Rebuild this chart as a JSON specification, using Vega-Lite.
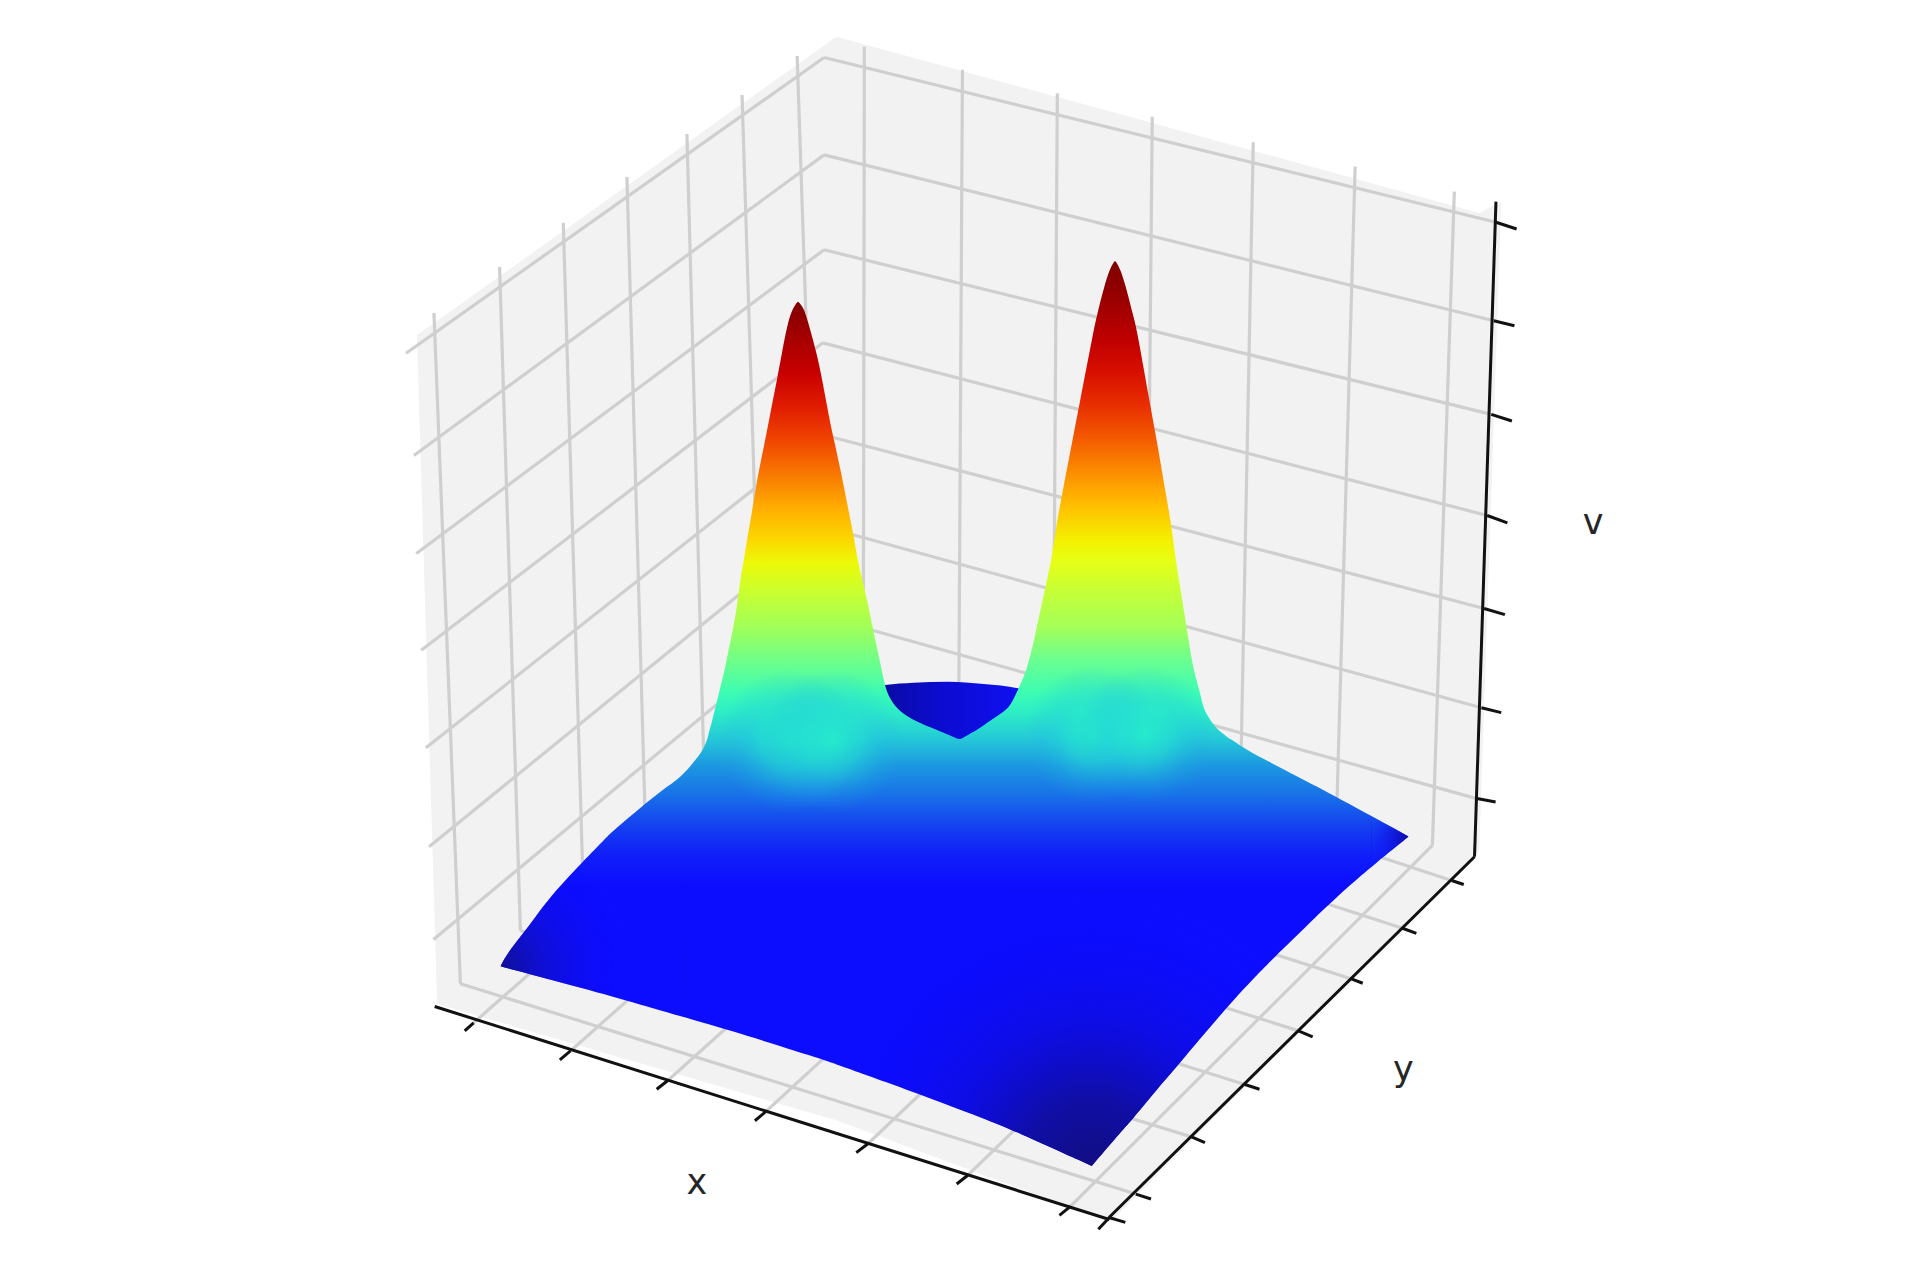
{"$schema":"https://vega.github.io/schema/vega-lite/v6.json","width":1920,"height":1282,"autosize":{"type":"fit","contains":"padding"},"padding":0,"background":"white","view":{"stroke":null},
"encoding":{"x":{"field":"x","type":"quantitative","scale":{"domain":[0,1568],"nice":false,"zero":false},"axis":null},"y":{"field":"y","type":"quantitative","scale":{"domain":[1047,0],"nice":false,"zero":false},"axis":null}},
"layer":[
{"data":{"values":[{"x":340.5,"y":273.6,"y2":273.6},{"x":357,"y":262,"y2":820},{"x":683,"y":30,"y2":915},{"x":907,"y":91,"y2":998},{"x":1208,"y":174,"y2":695},{"x":1226,"y":165,"y2":165}]},"mark":{"type":"area","orient":"vertical","fill":"#f2f2f2","stroke":null},"encoding":{"y2":{"field":"y2"}}},
{"data":{"values":[
{"x":354.4,"y":255.6,"x2":376,"y2":803.4},{"x":408,"y":218,"x2":425,"y2":760},{"x":460,"y":182,"x2":476,"y2":716},{"x":512,"y":144.5,"x2":527,"y2":672},{"x":561,"y":109.5,"x2":575,"y2":630},{"x":606,"y":77.6,"x2":622,"y2":589},{"x":651,"y":45.7,"x2":668,"y2":549},
{"x":376,"y":803.4,"x2":927.6,"y2":975.2},{"x":425,"y":760,"x2":973.1,"y2":928.5},{"x":476,"y":716,"x2":1016.7,"y2":885.7},{"x":527,"y":672,"x2":1060.4,"y2":841.9},{"x":575,"y":630,"x2":1102.6,"y2":799.1},{"x":622,"y":589,"x2":1144.8,"y2":757.9},{"x":668,"y":549,"x2":1185.5,"y2":719.1},
{"x":705.9,"y":38.1,"x2":705,"y2":555},{"x":786,"y":57,"x2":783,"y2":577},{"x":863.5,"y":76.2,"x2":860,"y2":600},{"x":941,"y":95.3,"x2":936,"y2":622},{"x":1023.5,"y":116.2,"x2":1013,"y2":645},{"x":1106.7,"y":136.1,"x2":1091.5,"y2":668},{"x":1187.7,"y":156.5,"x2":1169.8,"y2":690.5},
{"x":386.8,"y":835.3,"x2":705,"y2":555},{"x":465.9,"y":858.3,"x2":783,"y2":577},{"x":545.4,"y":882.4,"x2":860,"y2":600},{"x":625.6,"y":907.7,"x2":936,"y2":622},{"x":708.8,"y":934.1,"x2":1013,"y2":645},{"x":790.4,"y":959.8,"x2":1091.5,"y2":668},{"x":874.2,"y":985.3,"x2":1169.8,"y2":690.5},
{"x":331.6,"y":288.5,"x2":673,"y2":47},{"x":338,"y":372,"x2":673,"y2":126.5},{"x":340,"y":452,"x2":673,"y2":204},{"x":344,"y":531,"x2":672,"y2":280},{"x":347.8,"y":610.7,"x2":672,"y2":355},{"x":350.4,"y":691.5,"x2":672,"y2":430},{"x":354,"y":767.2,"x2":672,"y2":503.5},
{"x":673,"y":47,"x2":1221.7,"y2":181.5},{"x":673,"y":126.5,"x2":1219.9,"y2":262},{"x":673,"y":204,"x2":1217.9,"y2":338.4},{"x":672,"y":280,"x2":1214.5,"y2":421},{"x":672,"y":355,"x2":1212,"y2":497},{"x":672,"y":430,"x2":1209.8,"y2":578},{"x":672,"y":503.5,"x2":1205.2,"y2":652}
]},"mark":{"type":"rule","stroke":"#cfcfcf","strokeWidth":3.2},"encoding":{"x2":{"field":"x2"},"y2":{"field":"y2"}}},
{"data":{"values":[
{"x":355,"y":822,"x2":906,"y2":996},{"x":1204.2,"y":699.7,"x2":905.7,"y2":994.3},{"x":1221.7,"y":164.7,"x2":1204.2,"y2":699.7},
{"x":1221.7,"y":181.5,"x2":1238.6,"y2":187},{"x":1219.9,"y":262,"x2":1236.8,"y2":266},{"x":1217.9,"y":338.4,"x2":1234.7,"y2":343.8},{"x":1214.5,"y":421,"x2":1231,"y2":427},{"x":1212,"y":497,"x2":1229,"y2":502},{"x":1209.8,"y":578,"x2":1226,"y2":582},{"x":1205.2,"y":652,"x2":1221.4,"y2":655},
{"x":1185.5,"y":719.1,"x2":1195.4,"y2":722.4},{"x":1144.8,"y":757.9,"x2":1156.7,"y2":762.3},{"x":1102.6,"y":799.1,"x2":1112.9,"y2":803},{"x":1060.4,"y":841.9,"x2":1072,"y2":846.8},{"x":1016.7,"y":885.7,"x2":1028.6,"y2":889.6},{"x":973.1,"y":928.5,"x2":984,"y2":933.1},{"x":927.6,"y":975.2,"x2":940,"y2":979.2},{"x":905.7,"y":994.3,"x2":919,"y2":998.3},
{"x":386.8,"y":835.3,"x2":379.5,"y2":841.9},{"x":465.9,"y":858.3,"x2":457.2,"y2":865.6},{"x":545.4,"y":882.4,"x2":536.3,"y2":889.6},{"x":625.6,"y":907.7,"x2":616.5,"y2":915.3},{"x":708.8,"y":934.1,"x2":699.3,"y2":941.3},{"x":790.4,"y":959.8,"x2":781.3,"y2":967},{"x":874.2,"y":985.3,"x2":865.2,"y2":992.6},{"x":906,"y":994.3,"x2":897,"y2":1004}
]},"mark":{"type":"rule","stroke":"#111111","strokeWidth":3},"encoding":{"x2":{"field":"x2"},"y2":{"field":"y2"}}},
{"data":{"values":[{"x":720,"y":560.5,"y2":612},{"x":723,"y":559.5,"y2":612},{"x":745.9,"y":557.5,"y2":612},{"x":774.1,"y":556.7,"y2":612},{"x":803.3,"y":558.6,"y2":612},{"x":831.2,"y":562,"y2":612},{"x":840,"y":564,"y2":612}]},"mark":{"type":"area","orient":"vertical","interpolate":"monotone","stroke":null,"fill":{"gradient":"linear","x1":0,"y1":0,"x2":1,"y2":0,"stops":[{"offset":0,"color":"#0a0aa4"},{"offset":0.45,"color":"#0c0cd4"},{"offset":1,"color":"#1010f4"}]}},"encoding":{"y2":{"field":"y2"}}},
{"data":{"values":[{"y":603.5,"x":577.6,"x2":1005},{"y":612,"x":574.5,"x2":1017.5},{"y":622,"x":567,"x2":1036},{"y":634.5,"x":556.6,"x2":1060},{"y":645,"x":541,"x2":1080.5},{"y":659.2,"x":523.6,"x2":1106.5},{"y":680,"x":499,"x2":1145},{"y":683.2,"x":496,"x2":1150.4},{"y":683.2,"x":496,"x2":1150.4},{"y":683.2,"x":496,"x2":1150.4},{"y":703.6,"x":476,"x2":1125},{"y":727,"x":454,"x2":1097.5},{"y":741.6,"x":442.5,"x2":1082.3},{"y":751.3,"x":435.7,"x2":1072},{"y":770,"x":421,"x2":1053},{"y":780.9,"x":413,"x2":1041.6},{"y":789.2,"x":408.7,"x2":1033.5},{"y":789.2,"x":408.7,"x2":1033.5},{"y":789.2,"x":408.7,"x2":1033.5},{"y":800,"x":449,"x2":1023},{"y":817.2,"x":512.6,"x2":1007},{"y":823.7,"x":534,"x2":1001.1},{"y":840.3,"x":592.8,"x2":987},{"y":865,"x":671.2,"x2":966},{"y":868.2,"x":680,"x2":963.5},{"y":892.9,"x":749.6,"x2":942},{"y":914.4,"x":806,"x2":924.5},{"y":922.5,"x":826.1,"x2":917},{"y":952.2,"x":891.6,"x2":891.6}]},"mark":{"type":"area","orient":"horizontal","interpolate":"basis","stroke":null,"fill":{"gradient":"linear","x1":0,"y1":0,"x2":0,"y2":1,"stops":[{"offset":0,"color":"#24c8d8"},{"offset":0.062,"color":"#1c98e0"},{"offset":0.133,"color":"#1870e8"},{"offset":0.205,"color":"#1440f0"},{"offset":0.268,"color":"#1020f8"},{"offset":0.348,"color":"#0c0cff"},{"offset":1,"color":"#0c0cff"}]}},"encoding":{"x2":{"field":"x2"}}},
{"data":{"values":[{"y":246.4,"x":651.7,"x2":651.7},{"y":248,"x":650,"x2":653.5},{"y":252,"x":647.5,"x2":656.5},{"y":261.3,"x":643.8,"x2":659.5},{"y":288.5,"x":638.5,"x2":666.9},{"y":304.9,"x":635.6,"x2":670.5},{"y":345.7,"x":627.5,"x2":678},{"y":356.6,"x":625.5,"x2":680.5},{"y":386.5,"x":619.3,"x2":687},{"y":394.7,"x":618,"x2":688.6},{"y":427.3,"x":612.5,"x2":695},{"y":435.5,"x":611,"x2":696.8},{"y":457.3,"x":607.5,"x2":700.3},{"y":473.7,"x":604.5,"x2":704.3},{"y":498,"x":601.5,"x2":709.9},{"y":511.8,"x":599,"x2":712.5},{"y":533.5,"x":594.5,"x2":717.2},{"y":547.2,"x":591.8,"x2":720},{"y":562,"x":588,"x2":723.1},{"y":572,"x":585.8,"x2":727.4},{"y":581.2,"x":583.3,"x2":734.7},{"y":589.3,"x":581.5,"x2":747.8},{"y":596,"x":579.5,"x2":765},{"y":604,"x":577.5,"x2":783.7}]},"mark":{"type":"area","orient":"horizontal","interpolate":"basis","stroke":null,"fill":{"gradient":"linear","x1":0,"y1":0,"x2":0,"y2":1,"stops":[{"offset":0,"color":"#7f0000"},{"offset":0.088,"color":"#a80000"},{"offset":0.164,"color":"#c80000"},{"offset":0.239,"color":"#e01c00"},{"offset":0.315,"color":"#f04400"},{"offset":0.393,"color":"#f87800"},{"offset":0.469,"color":"#ffac00"},{"offset":0.544,"color":"#fbd800"},{"offset":0.597,"color":"#ecfa08"},{"offset":0.664,"color":"#c8ff30"},{"offset":0.743,"color":"#a0ff58"},{"offset":0.818,"color":"#70ff88"},{"offset":0.894,"color":"#3cfcb4"},{"offset":0.933,"color":"#2ef0c4"},{"offset":1,"color":"#24c8d8"}]}},"encoding":{"x2":{"field":"x2"}}},
{"data":{"values":[{"y":213.1,"x":910.6,"x2":910.6},{"y":215,"x":909,"x2":912.2},{"y":219,"x":906.8,"x2":914.4},{"y":231.4,"x":902.4,"x2":918.8},{"y":258.6,"x":895.6,"x2":925.6},{"y":268.1,"x":893.5,"x2":928.3},{"y":334.8,"x":880.6,"x2":940},{"y":351.2,"x":877.5,"x2":943.2},{"y":405.6,"x":867,"x2":952.5},{"y":430.1,"x":862.5,"x2":956.8},{"y":457.3,"x":858.7,"x2":960.1},{"y":473.7,"x":855,"x2":963},{"y":525.3,"x":844,"x2":971},{"y":548.5,"x":838.2,"x2":975},{"y":563.5,"x":831.2,"x2":979.5},{"y":577,"x":825,"x2":982.5},{"y":582.5,"x":817.8,"x2":985},{"y":589,"x":808,"x2":989},{"y":594.8,"x":800.3,"x2":993},{"y":604,"x":783.7,"x2":1005}]},"mark":{"type":"area","orient":"horizontal","interpolate":"basis","stroke":null,"fill":{"gradient":"linear","x1":0,"y1":0,"x2":0,"y2":1,"stops":[{"offset":0,"color":"#7f0000"},{"offset":0.069,"color":"#950000"},{"offset":0.166,"color":"#c00000"},{"offset":0.235,"color":"#d81000"},{"offset":0.304,"color":"#e83000"},{"offset":0.373,"color":"#f45c00"},{"offset":0.445,"color":"#fc9000"},{"offset":0.514,"color":"#ffc000"},{"offset":0.583,"color":"#f4f000"},{"offset":0.624,"color":"#e8ff14"},{"offset":0.693,"color":"#c4ff38"},{"offset":0.765,"color":"#a4ff58"},{"offset":0.834,"color":"#6aff90"},{"offset":0.903,"color":"#3cfcb4"},{"offset":0.939,"color":"#2ef0c4"},{"offset":1,"color":"#24c8d8"}]}},"encoding":{"x2":{"field":"x2"}}},
{"data":{"values":[{"y":540,"x":593,"x2":718.5},{"y":562,"x":588,"x2":723.1},{"y":572,"x":585.8,"x2":727.4},{"y":581.2,"x":583.3,"x2":734.7},{"y":589.3,"x":581.5,"x2":747.8},{"y":596,"x":579.5,"x2":765},{"y":603.5,"x":577.6,"x2":783.7},{"y":612,"x":574.5,"x2":790},{"y":634.5,"x":556.6,"x2":790},{"y":659.2,"x":523.6,"x2":790},{"y":680,"x":499,"x2":790}]},"mark":{"type":"area","orient":"horizontal","interpolate":"basis","stroke":null,"fill":{"gradient":"radial","x1":0.502,"y1":0.483,"r1":0,"x2":0.502,"y2":0.483,"r2":0.2,"stops":[{"offset":0,"color":"rgba(38,246,200,0.75)"},{"offset":0.4,"color":"rgba(36,225,210,0.55)"},{"offset":0.75,"color":"rgba(32,190,225,0.2)"},{"offset":1,"color":"rgba(32,170,225,0)"}]}},"encoding":{"x2":{"field":"x2"}}},
{"data":{"values":[{"y":540,"x":593,"x2":718.5},{"y":562,"x":588,"x2":723.1},{"y":572,"x":585.8,"x2":727.4},{"y":581.2,"x":583.3,"x2":734.7},{"y":589.3,"x":581.5,"x2":747.8},{"y":596,"x":579.5,"x2":765},{"y":603.5,"x":577.6,"x2":783.7},{"y":612,"x":574.5,"x2":790},{"y":634.5,"x":556.6,"x2":790},{"y":659.2,"x":523.6,"x2":790},{"y":680,"x":499,"x2":790}]},"mark":{"type":"area","orient":"horizontal","interpolate":"basis","stroke":null,"fill":{"gradient":"radial","x1":0.622,"y1":0.483,"r1":0,"x2":0.622,"y2":0.483,"r2":0.2,"stops":[{"offset":0,"color":"rgba(38,246,200,0.75)"},{"offset":0.4,"color":"rgba(36,225,210,0.55)"},{"offset":0.75,"color":"rgba(32,190,225,0.2)"},{"offset":1,"color":"rgba(32,170,225,0)"}]}},"encoding":{"x2":{"field":"x2"}}},
{"data":{"values":[{"y":540,"x":840,"x2":974},{"y":563.5,"x":831.2,"x2":979.5},{"y":577,"x":825,"x2":982.5},{"y":582.5,"x":817.8,"x2":985},{"y":589,"x":808,"x2":989},{"y":594.8,"x":800.3,"x2":993},{"y":603.5,"x":783.7,"x2":1005},{"y":612,"x":778,"x2":1017.5},{"y":634.5,"x":778,"x2":1060},{"y":659.2,"x":778,"x2":1106.5},{"y":680,"x":778,"x2":1145}]},"mark":{"type":"area","orient":"horizontal","interpolate":"basis","stroke":null,"fill":{"gradient":"radial","x1":0.313,"y1":0.473,"r1":0,"x2":0.313,"y2":0.473,"r2":0.153,"stops":[{"offset":0,"color":"rgba(38,246,200,0.75)"},{"offset":0.4,"color":"rgba(36,225,210,0.55)"},{"offset":0.75,"color":"rgba(32,190,225,0.2)"},{"offset":1,"color":"rgba(32,170,225,0)"}]}},"encoding":{"x2":{"field":"x2"}}},
{"data":{"values":[{"y":540,"x":840,"x2":974},{"y":563.5,"x":831.2,"x2":979.5},{"y":577,"x":825,"x2":982.5},{"y":582.5,"x":817.8,"x2":985},{"y":589,"x":808,"x2":989},{"y":594.8,"x":800.3,"x2":993},{"y":603.5,"x":783.7,"x2":1005},{"y":612,"x":778,"x2":1017.5},{"y":634.5,"x":778,"x2":1060},{"y":659.2,"x":778,"x2":1106.5},{"y":680,"x":778,"x2":1145}]},"mark":{"type":"area","orient":"horizontal","interpolate":"basis","stroke":null,"fill":{"gradient":"radial","x1":0.428,"y1":0.473,"r1":0,"x2":0.428,"y2":0.473,"r2":0.153,"stops":[{"offset":0,"color":"rgba(38,246,200,0.75)"},{"offset":0.4,"color":"rgba(36,225,210,0.55)"},{"offset":0.75,"color":"rgba(32,190,225,0.2)"},{"offset":1,"color":"rgba(32,170,225,0)"}]}},"encoding":{"x2":{"field":"x2"}}},
{"data":{"values":[{"y":727,"x":600,"x2":1097.5},{"y":741.6,"x":600,"x2":1082.3},{"y":751.3,"x":600,"x2":1072},{"y":770,"x":600,"x2":1053},{"y":780.9,"x":600,"x2":1041.6},{"y":789.2,"x":600,"x2":1033.5},{"y":789.2,"x":600,"x2":1033.5},{"y":789.2,"x":600,"x2":1033.5},{"y":800,"x":600,"x2":1023},{"y":817.2,"x":600,"x2":1007},{"y":823.7,"x":600,"x2":1001.1},{"y":842.5,"x":600,"x2":985},{"y":865,"x":671.2,"x2":966},{"y":868.2,"x":680,"x2":963.5},{"y":892.9,"x":749.6,"x2":942},{"y":914.4,"x":806,"x2":924.5},{"y":922.5,"x":826.1,"x2":917},{"y":952.2,"x":891.6,"x2":891.6}]},"mark":{"type":"area","orient":"horizontal","interpolate":"basis","stroke":null,"fill":{"gradient":"radial","x1":0.586,"y1":0.726,"r1":0,"x2":0.586,"y2":0.726,"r2":0.44,"stops":[{"offset":0,"color":"rgba(18,14,130,1)"},{"offset":0.25,"color":"rgba(16,14,160,0.95)"},{"offset":0.55,"color":"rgba(14,13,215,0.6)"},{"offset":1,"color":"rgba(12,12,255,0)"}]}},"encoding":{"x2":{"field":"x2"}}},
{"data":{"values":[{"y":659.2,"x":523.6,"x2":560},{"y":680,"x":499,"x2":560},{"y":683.2,"x":496,"x2":560},{"y":683.2,"x":496,"x2":560},{"y":683.2,"x":496,"x2":560},{"y":703.6,"x":476,"x2":560},{"y":727,"x":454,"x2":560},{"y":741.6,"x":442.5,"x2":560},{"y":751.3,"x":435.7,"x2":560},{"y":770,"x":421,"x2":560},{"y":780.9,"x":413,"x2":560},{"y":789.2,"x":408.7,"x2":560},{"y":789.2,"x":408.7,"x2":560},{"y":789.2,"x":408.7,"x2":560},{"y":800,"x":449,"x2":560},{"y":817.2,"x":512.6,"x2":560},{"y":823.7,"x":534,"x2":560},{"y":831,"x":560,"x2":560}]},"mark":{"type":"area","orient":"horizontal","interpolate":"basis","stroke":null,"fill":{"gradient":"radial","x1":0.058,"y1":0.76,"r1":0,"x2":0.058,"y2":0.76,"r2":0.62,"stops":[{"offset":0,"color":"rgba(16,16,150,1)"},{"offset":0.4,"color":"rgba(16,16,200,0.6)"},{"offset":1,"color":"rgba(12,12,255,0)"}]}},"encoding":{"x2":{"field":"x2"}}},
{"data":{"values":[{"y":667,"x":1120,"x2":1120},{"y":680,"x":1120,"x2":1145},{"y":683.2,"x":1120,"x2":1150.4},{"y":683.2,"x":1120,"x2":1150.4},{"y":683.2,"x":1120,"x2":1150.4},{"y":703.6,"x":1120,"x2":1125},{"y":708,"x":1120,"x2":1120}]},"mark":{"type":"area","orient":"horizontal","interpolate":"basis","stroke":null,"fill":{"gradient":"radial","x1":0.87,"y1":0.395,"r1":0,"x2":0.87,"y2":0.395,"r2":0.73,"stops":[{"offset":0,"color":"rgba(16,8,165,1)"},{"offset":1,"color":"rgba(12,12,255,0)"}]}},"encoding":{"x2":{"field":"x2"}}},
{"data":{"values":[{"x":569,"y":966,"t":"x"},{"x":1146,"y":874,"t":"y"},{"x":1301,"y":427,"t":"v"}]},"mark":{"type":"text","font":"DejaVu Sans","fontSize":35,"fill":"#262626","align":"center","baseline":"middle"},"encoding":{"text":{"field":"t"}}}
]}
